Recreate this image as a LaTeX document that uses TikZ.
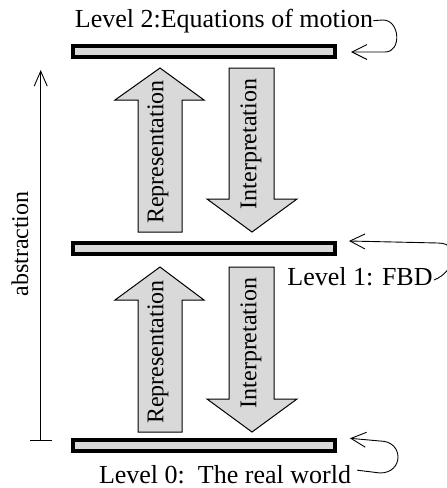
\documentclass[tikz,border=0pt]{standalone}
\usepackage{fontspec}
\setmainfont{Liberation Serif}
\usetikzlibrary{arrows.meta}
\begin{document}
\begin{tikzpicture}[x=1pt,y=-1pt,
  bar/.style={draw=black,line width=4pt,fill=black!15,minimum width=262pt,minimum height=11pt,inner sep=0pt},
  bigarrow/.style={draw=black,line width=1pt,fill=black!15,line join=miter},
  levellabel/.style={font=\fontsize{26}{30}\selectfont,inner sep=0pt,anchor=base},
  arrowlabel/.style={font=\fontsize{24}{28}\selectfont,inner sep=0pt,rotate=90},
  link/.style={line width=0.9pt,-{Straight Barb[length=15pt,width=15pt]}},
]
\useasboundingbox (0,0) rectangle (447,488);
% level bars
\node[bar] (bar2) at (204,51.3) {};
\node[bar] (bar1) at (204,248.5) {};
\node[bar] (bar0) at (204,445.8) {};
% level labels
\node[levellabel] (L2) at (224,27) {Level 2:Equations of motion};
\node[levellabel] (L1) at (360,285) {Level 1: FBD};
\node[levellabel] (L0) at (225,483) {Level 0:\ \ The real world};
% big arrows, upper pair
\draw[bigarrow] (138,232) -- (138,100) -- (115,100) -- (160,68) -- (204,100) -- (182,100) -- (182,232) -- cycle;
\draw[bigarrow] (229,68) -- (229,199) -- (207,199) -- (252,232) -- (297,199) -- (274,199) -- (274,68) -- cycle;
% big arrows, lower pair
\draw[bigarrow] (138,432) -- (138,300) -- (115,300) -- (160,267) -- (204,300) -- (182,300) -- (182,432) -- cycle;
\draw[bigarrow] (229,267) -- (229,399) -- (207,399) -- (252,432) -- (297,399) -- (274,399) -- (274,267) -- cycle;
% arrow labels
\node[arrowlabel] (rep2) at (158,152) {Representation};
\node[arrowlabel] (int2) at (251,144) {Interpretation};
\node[arrowlabel] (rep1) at (158,352) {Representation};
\node[arrowlabel] (int1) at (251,343) {Interpretation};
% abstraction axis
\coordinate (abot) at (40.7,440);
\coordinate (atop) at (40.7,70);
\draw[line width=0.9pt,-{Straight Barb[length=15pt,width=13pt]}] (abot) -- (atop);
\draw[line width=0.9pt] ([xshift=-10.7pt]abot) -- ([xshift=11.3pt]abot);
\node[arrowlabel] (abs) at (20,244) {abstraction};
% loop connectors
\draw[link] (L2.east) -- (383,20) .. controls (400,20) and (402,52) .. (385,52) -- ([xshift=14pt,yshift=-0.7pt]bar2.east);
\draw[link] (434,280) .. controls (455,272) and (462,243) .. (438,243) -- ([xshift=12pt]bar1.north east);
\draw[link] ([xshift=6pt,yshift=4pt]L0.east) -- (380,473) .. controls (404,473) and (404,441) .. (380,441) -- ([xshift=13pt]bar0.north east);
\end{tikzpicture}
\end{document}
